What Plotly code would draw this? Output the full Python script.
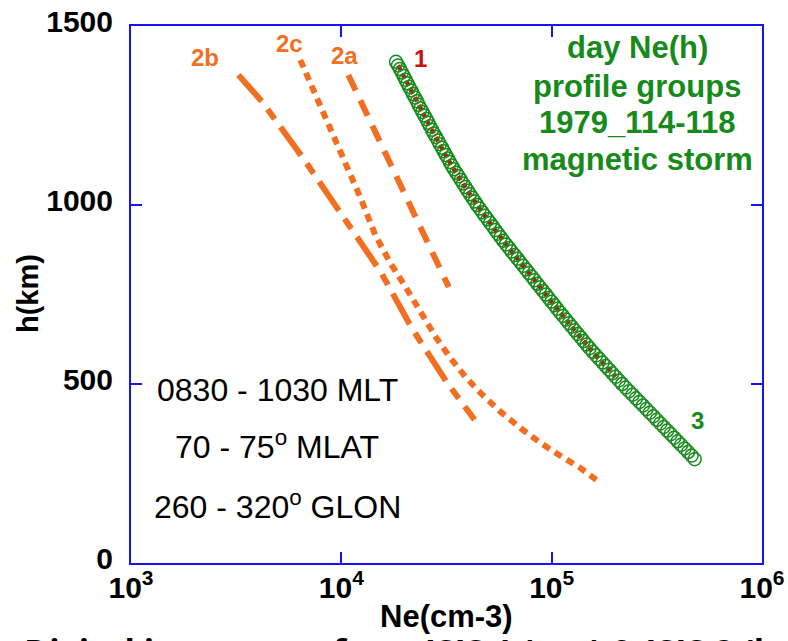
import plotly.graph_objects as go

# ---------------- data ----------------
# group 3 : green open circles  (h in km, Ne in 10^3 cm-3)
h_3 = [1400, 1390, 1380, 1370, 1360, 1350, 1340, 1330, 1320, 1310,
       1300, 1290, 1280, 1270, 1260, 1250, 1240, 1230, 1220, 1210,
       1200, 1190, 1180, 1170, 1160, 1150, 1140, 1130, 1120, 1110,
       1100, 1090, 1080, 1070, 1060, 1050, 1040, 1030, 1020, 1010,
       1000, 990, 980, 970, 960, 950, 940, 930, 920, 910,
       900, 890, 880, 870, 860, 850, 840, 830, 820, 810,
       800, 790, 780, 770, 760, 750, 740, 730, 720, 710,
       700, 690, 680, 670, 660, 650, 640, 630, 620, 610,
       600, 590, 580, 570, 560, 550, 540, 530, 520, 510,
       500, 490, 480, 470, 460, 450, 440, 430, 420, 410,
       400, 390, 380, 370, 360, 350, 340, 330, 320, 310,
       300, 290]
ne_3_k = [18.2, 18.6, 19.0, 19.4, 19.8, 20.2, 20.6, 21.0, 21.5, 21.9,
          22.4, 22.9, 23.3, 23.8, 24.3, 24.8, 25.4, 25.9, 26.4, 27.0,
          27.5, 28.2, 28.8, 29.4, 30.1, 30.7, 31.4, 32.1, 32.8, 33.5,
          34.3, 35.2, 36.1, 37.0, 37.9, 38.9, 39.9, 40.9, 42.0, 43.1,
          44.2, 45.5, 46.8, 48.1, 49.6, 51.0, 52.5, 54.0, 55.6, 57.2,
          58.9, 60.7, 62.7, 64.6, 66.7, 68.8, 71.0, 73.2, 75.5, 77.9,
          80.4, 82.9, 85.5, 88.2, 91.0, 93.9, 96.8, 99.9, 103.0, 106.3,
          109.6, 113.2, 117.0, 120.8, 124.7, 128.8, 133.0, 137.4, 141.9, 146.6,
          151.4, 156.9, 162.6, 168.5, 174.6, 180.9, 187.5, 194.3, 201.4, 208.7,
          216.3, 224.7, 233.3, 242.4, 251.8, 261.6, 271.6, 282.2, 293.1, 304.5,
          316.2, 328.6, 341.2, 354.5, 368.1, 382.4, 397.2, 412.6, 428.5, 445.1,
          462.4, 478.6]

# group 1 : red dotted line
h_1 = [1390, 1300, 1200, 1100, 1000, 900, 800, 700, 600, 520]
ne_1_k = [18.6, 22.4, 27.5, 34.3, 44.2, 58.9, 80.4, 109.6, 151.4, 201.4]

# group 2a : orange long dashes
h_2a = [1363, 1215, 1067, 919, 771]
ne_2a_k = [10.8, 14.2, 18.7, 24.6, 32.4]

# group 2b : orange dash-dot
h_2b = [1363, 1288, 1126, 1036, 813, 659, 506, 400]
ne_2b_k = [3.24, 4.21, 6.67, 8.49, 15.4, 21.5, 31.6, 43.0]

# group 2c : orange short dashes
h_2c = [1405, 1293, 1196, 1106, 1022, 916, 838, 771, 698, 631,
        573, 520, 475, 422, 377, 335, 299, 265, 223]
ne_2c_k = [6.38, 7.76, 9.16, 10.7, 12.3, 14.5, 17.1, 20.2, 23.8, 28.1,
           33.0, 38.9, 45.9, 57.2, 71.1, 88.7, 110.4, 137.4, 171.0]

x_tickvals = [1e3, 1e4, 1e5, 1e6]
x_ticktext = ["10<sup>3</sup>", "10<sup>4</sup>", "10<sup>5</sup>", "10<sup>6</sup>"]
y_tickvals = [0, 500, 1000, 1500]
y_ticktext = ["0", "500", "1000", "1500"]

info_lines = ["0830 - 1030 MLT", "70 - 75<sup>o</sup> MLAT", "260 - 320<sup>o</sup> GLON"]
title_lines = ["day Ne(h)", "profile groups", "1979_114-118", "magnetic storm"]

# ---------------- style ----------------
ORANGE = "#f26f21"
GREEN = "#178a1c"
RED = "#cc1010"
BLUE = "#1414f0"

W, H = 788, 641
L, R, T, B = 131, 26, 26, 78


def kx(v):
    return [a * 1e3 for a in v]


def px(xp):
    return (xp - L) / (W - L - R)


def py(yp):
    return (H - B - yp) / (H - T - B)


fig = go.Figure()

fig.add_trace(go.Scatter(x=kx(ne_2b_k), y=h_2b, mode="lines",
                         line=dict(color=ORANGE, width=6, dash="35px,10px,12px,10px")))
fig.add_trace(go.Scatter(x=kx(ne_2c_k), y=h_2c, mode="lines",
                         line=dict(color=ORANGE, width=6, dash="8px,6px")))
fig.add_trace(go.Scatter(x=kx(ne_2a_k), y=h_2a, mode="lines",
                         line=dict(color=ORANGE, width=6, dash="17px,11px")))
fig.add_trace(go.Scatter(x=kx(ne_1_k), y=h_1, mode="lines",
                         line=dict(color=RED, width=4.5, dash="5px,4px", shape="spline")))
fig.add_trace(go.Scatter(x=kx(ne_3_k), y=h_3, mode="markers",
                         marker=dict(symbol="circle-open", size=13, color=GREEN,
                                     line=dict(width=1.5, color=GREEN))))

tickfont = dict(family="Liberation Sans, Arial, sans-serif", size=30, color="black", weight="bold")

fig.update_xaxes(type="log", range=[3, 6], tickvals=x_tickvals, ticktext=x_ticktext,
                 ticks="inside", ticklen=11, tickwidth=2, tickcolor=BLUE,
                 showline=True, linecolor=BLUE, linewidth=2, mirror="ticks",
                 showgrid=False, zeroline=False, tickfont=tickfont, ticklabelstandoff=-3,
                 automargin=False)
fig.update_yaxes(range=[0, 1500], tickvals=y_tickvals, ticktext=y_ticktext,
                 ticks="inside", ticklen=11, tickwidth=2, tickcolor=BLUE,
                 showline=True, linecolor=BLUE, linewidth=2, mirror="ticks",
                 showgrid=False, zeroline=False, tickfont=tickfont, ticklabelstandoff=10,
                 ticklabelshift=-5, automargin=False)

ann = []
bold = "Liberation Sans, Arial, sans-serif"


def add(text, xp, yp, size, color, weight="bold", family=bold, angle=0, xanchor="center"):
    ann.append(dict(text=text, x=px(xp), y=py(yp), xref="paper", yref="paper",
                    showarrow=False, xanchor=xanchor, yanchor="middle", textangle=angle,
                    font=dict(family=family, size=size, color=color, weight=weight)))


add("h(km)", 28, 294, 29, "black", angle=-90)
add("Ne(cm-3)", 446, 616, 31, "black")

add("2b", 205, 57, 24, ORANGE)
add("2c", 289, 43, 24, ORANGE)
add("2a", 344, 55, 24, ORANGE)
add("1", 420, 58, 24, RED)
add("3", 697, 420, 24, GREEN)

for txt, yy in zip(title_lines, [48, 86, 122, 159]):
    add(txt, 637, yy, 31, GREEN)

for txt, yy in zip(info_lines, [390, 445, 505]):
    add(txt, 277, yy, 32, "black", weight="normal")

ann.append(dict(text="Digital ionograms from ISIS 1 (top) & ISIS 2 (bottom)",
                x=px(22), y=py(626), xref="paper", yref="paper", showarrow=False,
                xanchor="left", yanchor="top",
                font=dict(family="Open Sans, sans-serif", size=34, color="black", weight="bold")))

fig.update_layout(width=W, height=H, margin=dict(l=L, r=R, t=T, b=B, autoexpand=False),
                  plot_bgcolor="white", paper_bgcolor="white",
                  showlegend=False, annotations=ann)

fig.write_html("out.html")
